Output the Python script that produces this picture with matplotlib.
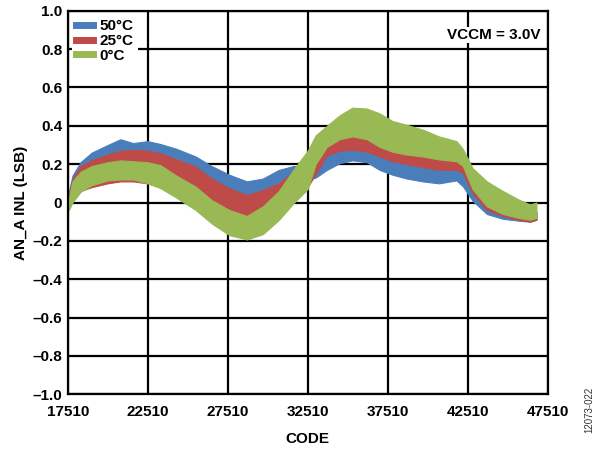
import matplotlib
matplotlib.use("Agg")
import matplotlib.pyplot as plt

plt.rcParams['font.family'] = ['Liberation Sans', 'DejaVu Sans']
plt.rcParams['font.weight'] = 'bold'

# band envelopes (code -> INL in LSB)
codes = [17510, 17800, 18300, 19000, 20000, 20800, 21600, 22500, 23300, 24300,
         25500, 26500, 27600, 28700, 29700, 30700, 31600, 32500, 33000, 33700,
         34500, 35300, 36200, 37000, 37800, 38700, 39700, 40700, 41800, 42200,
         42800, 43700, 44700, 45700, 46400, 46800]

blue_hi = [0.03, 0.14, 0.21, 0.26, 0.30, 0.33, 0.31, 0.32, 0.305, 0.28,
           0.24, 0.19, 0.145, 0.11, 0.125, 0.17, 0.19, 0.19, 0.19, 0.27,
           0.30, 0.31, 0.30, 0.27, 0.245, 0.23, 0.215, 0.20, 0.20, 0.185,
           0.08, 0.0, -0.04, -0.05, -0.05, -0.05]
blue_lo = [-0.03, 0.04, 0.08, 0.11, 0.14, 0.15, 0.15, 0.14, 0.12, 0.10,
           0.06, 0.02, -0.02, -0.04, -0.02, 0.03, 0.08, 0.12, 0.13, 0.17,
           0.205, 0.22, 0.21, 0.17, 0.145, 0.125, 0.11, 0.10, 0.115, 0.085,
           0.01, -0.06, -0.085, -0.095, -0.10, -0.09]

red_hi = [0.02, 0.12, 0.19, 0.22, 0.25, 0.27, 0.275, 0.27, 0.257, 0.225,
          0.187, 0.126, 0.074, 0.039, 0.065, 0.10, 0.16, 0.18, 0.23, 0.31,
          0.35, 0.37, 0.36, 0.32, 0.295, 0.28, 0.27, 0.255, 0.245, 0.23,
          0.12, 0.02, -0.02, -0.04, -0.05, -0.05]
red_lo = [-0.04, 0.02, 0.06, 0.08, 0.10, 0.11, 0.11, 0.10, 0.08, 0.05,
          0.0, -0.05, -0.08, -0.09, -0.07, -0.03, 0.03, 0.08, 0.15, 0.245,
          0.27, 0.275, 0.265, 0.24, 0.215, 0.20, 0.185, 0.17, 0.17, 0.155,
          0.05, -0.04, -0.07, -0.09, -0.10, -0.09]

green_hi = [0.0, 0.11, 0.16, 0.19, 0.21, 0.22, 0.215, 0.21, 0.195, 0.14,
            0.083, 0.013, -0.039, -0.07, -0.02, 0.06, 0.17, 0.27, 0.35, 0.40,
            0.455, 0.495, 0.49, 0.465, 0.425, 0.405, 0.38, 0.345, 0.32, 0.28,
            0.18, 0.11, 0.06, 0.015, -0.01, 0.0]
green_lo = [-0.05, 0.0, 0.055, 0.09, 0.115, 0.12, 0.12, 0.10, 0.075, 0.025,
            -0.039, -0.109, -0.17, -0.193, -0.165, -0.091, -0.005, 0.07, 0.20, 0.29,
            0.33, 0.345, 0.33, 0.29, 0.265, 0.25, 0.24, 0.225, 0.215, 0.19,
            0.07, -0.02, -0.06, -0.08, -0.09, -0.08]

labels = ['50°C', '25°C', '0°C']
colors = ['#4a7ebb', '#be4b48', '#98b954']

x_ticks = [17510, 22510, 27510, 32510, 37510, 42510, 47510]
y_ticks = [-1.0, -0.8, -0.6, -0.4, -0.2, 0.0, 0.2, 0.4, 0.6, 0.8, 1.0]
y_ticklabels = ['–1.0', '–0.8', '–0.6', '–0.4', '–0.2', '0',
                '0.2', '0.4', '0.6', '0.8', '1.0']

fig = plt.figure(figsize=(6, 4.5), dpi=100)
ax = fig.add_axes([0.113, 0.124, 0.8, 0.852])

bands = [(blue_lo, blue_hi), (red_lo, red_hi), (green_lo, green_hi)]
for (lo, hi), c, lab in zip(bands, colors, labels):
    ax.fill_between(codes, lo, hi, color=c, lw=0.8, edgecolor=c, zorder=3)
    ax.plot([], [], color=c, lw=5, label=lab)

ax.set_xlim(17510, 47510)
ax.set_ylim(-1.0, 1.0)
ax.set_xticks(x_ticks)
ax.set_xticklabels([str(t) for t in x_ticks])
ax.set_yticks(y_ticks)
ax.set_yticklabels(y_ticklabels)
ax.tick_params(length=0, labelsize=11)
ax.tick_params(axis='x', pad=8)
ax.tick_params(axis='y', pad=4)
ax.grid(True, color='black', lw=1.6, zorder=1)
ax.set_axisbelow(True)
for s in ax.spines.values():
    s.set_linewidth(1.6)
    s.set_zorder(5)

ax.set_xlabel('CODE', fontsize=11, fontweight='bold', labelpad=9)
ax.set_ylabel('AN_A INL (LSB)', fontsize=11, fontweight='bold', labelpad=3)

leg = ax.legend(loc='upper left', fontsize=11, handlelength=1.1, handletextpad=0.4,
                labelspacing=0.05, borderpad=0.3, borderaxespad=0.25,
                fancybox=False, framealpha=1, edgecolor='none')
leg.set_zorder(6)

ax.text(0.985, 0.955, 'VCCM = 3.0V', transform=ax.transAxes, ha='right', va='top',
        fontsize=11, fontweight='bold', zorder=6,
        bbox=dict(facecolor='white', edgecolor='none', pad=1))

fig.text(0.983, 0.09, '12073-022', rotation=90, ha='center', va='center',
         fontsize=7, fontweight='normal', color='#333333')

fig.savefig('out.png', dpi=100)
